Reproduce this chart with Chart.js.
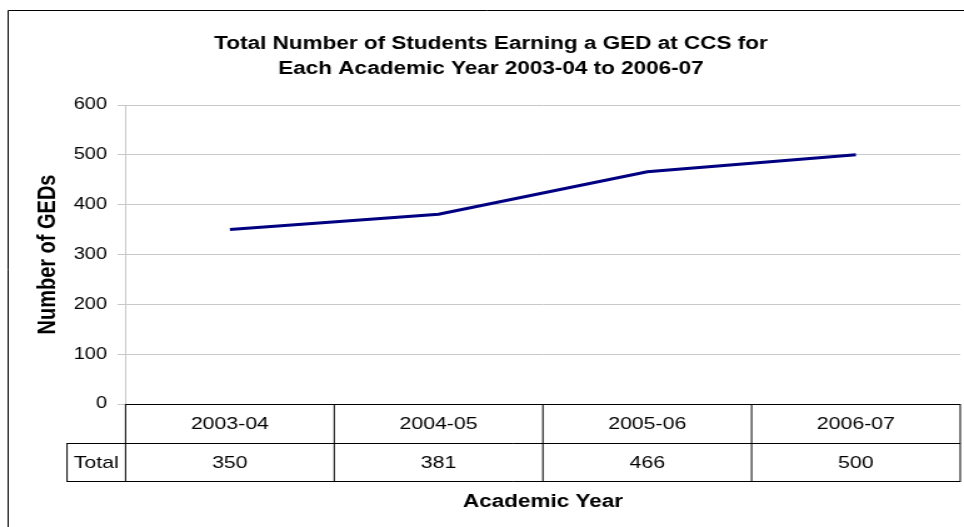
<!DOCTYPE html>
<html lang="en">
<head>
  <meta charset="UTF-8">
  <meta name="viewport" content="width=device-width,initial-scale=1">
  <title>Total Number of Students Earning a GED at CCS</title>
  <script src="https://cdn.jsdelivr.net/npm/chart.js"></script>
  <style>
    html, body { margin: 0; padding: 0; background: #fff; overflow: hidden; }
  </style>
</head>
<body>

  <!-- drawn at 771 wide, shown 964 wide (the sheet's text runs wide) -->
  <canvas id="chart0" width="771" height="527" style="display:block;width:964px;height:527px"></canvas>

  <script>

    const years = ["2003-04", "2004-05", "2005-06", "2006-07"]
    const totals = [350, 381, 466, 500]
    const seriesName = "Total"
    const titleLines = ["Total Number of Students Earning a GED at CCS for",
      "Each Academic Year 2003-04 to 2006-07"]

    const FONT = "'Liberation Sans', Arial, Helvetica, sans-serif"
    Chart.defaults.font.family = FONT
    Chart.defaults.color = "#000"

    /* Frame around the chart and the data table under the plot. */
    const dataTable = {
      id: "dataTable",
      beforeDraw(chart) {
        const ctx = chart.ctx
        ctx.save()
        ctx.fillStyle = "#fff"
        ctx.fillRect(0, 0, chart.width, chart.height)
        ctx.strokeStyle = "#000"
        ctx.lineWidth = 1
        ctx.beginPath()
        ctx.moveTo(6.5, chart.height + 2)
        ctx.lineTo(6.5, 10.5)
        ctx.lineTo(chart.width + 2, 10.5)
        ctx.stroke()
        ctx.restore()
      },
      afterDraw(chart) {
        const ctx = chart.ctx
        const area = chart.chartArea
        const xScale = chart.scales.x
        const top = area.bottom
        const mid = top + 39
        const bottom = top + 77
        const labelLeft = 53.6
        const colW = (area.right - area.left) / years.length

        ctx.save()
        ctx.strokeStyle = "#000"
        ctx.lineWidth = 1
        ctx.beginPath()
        ctx.moveTo(area.left, top + 0.5)
        ctx.lineTo(area.right, top + 0.5)
        ctx.moveTo(labelLeft, mid + 0.5)
        ctx.lineTo(area.right, mid + 0.5)
        ctx.moveTo(labelLeft, bottom + 0.5)
        ctx.lineTo(area.right, bottom + 0.5)
        ctx.moveTo(labelLeft, mid)
        ctx.lineTo(labelLeft, bottom + 1)
        for (let i = 0; i <= years.length; i++) {
          const x = area.left + i * colW
          ctx.moveTo(x, top)
          ctx.lineTo(x, bottom + 1)
        }
        ctx.stroke()

        ctx.fillStyle = "#000"
        ctx.font = "17px " + FONT
        ctx.textAlign = "center"
        ctx.textBaseline = "middle"
        for (let i = 0; i < years.length; i++) {
          const cx = xScale.getPixelForValue(i)
          ctx.fillText(years[i], cx, (top + mid) / 2 + 1)
          ctx.fillText(String(totals[i]), cx, (mid + bottom) / 2 + 1)
        }
        ctx.fillText(seriesName, (labelLeft + area.left) / 2, (mid + bottom) / 2 + 1)
        ctx.restore()
      }
    }

    const ctx0 = document.getElementById("chart0").getContext("2d")
    const myChart0 = new Chart(ctx0, {
      type: "line",
      data: {
        labels: years,
        datasets: [{
          label: seriesName,
          data: totals,
          borderColor: "#000080",
          borderWidth: 3,
          pointRadius: 0,
          tension: 0,
          fill: false
        }]
      },
      options: {
        responsive: false,
        animation: false,
        layout: { padding: { left: 17.4, right: 3, top: 0, bottom: 0 } },
        plugins: {
          legend: { display: false },
          tooltip: { enabled: false },
          title: {
            display: true,
            text: titleLines,
            color: "#000",
            font: { size: 18, weight: "bold", lineHeight: 1.39 },
            padding: { top: 31.5, bottom: 23.5 }
          }
        },
        scales: {
          x: {
            offset: true,
            grid: { display: false },
            border: { display: false },
            ticks: { display: false },
            title: {
              display: true,
              text: "Academic Year",
              color: "#000",
              font: { size: 18, weight: "bold" },
              padding: { top: 0, bottom: 14 }
            },
            afterFit(scale) { scale.height = 123 }
          },
          y: {
            min: 0,
            max: 600,
            ticks: { stepSize: 100, padding: 8.4, color: "#000", font: { size: 16 } },
            grid: { color: "#c8c8c8", tickLength: 6.4, lineWidth: 1 },
            border: { color: "#c8c8c8" },
            title: {
              display: true,
              text: "Number of GEDs",
              color: "#000",
              font: { size: 20, weight: "bold" },
              padding: { top: 8.8, bottom: 0 }
            },
            afterFit(scale) { scale.width = 83 }
          }
        }
      },
      plugins: [dataTable]
    })

  </script>

</body>
</html>
